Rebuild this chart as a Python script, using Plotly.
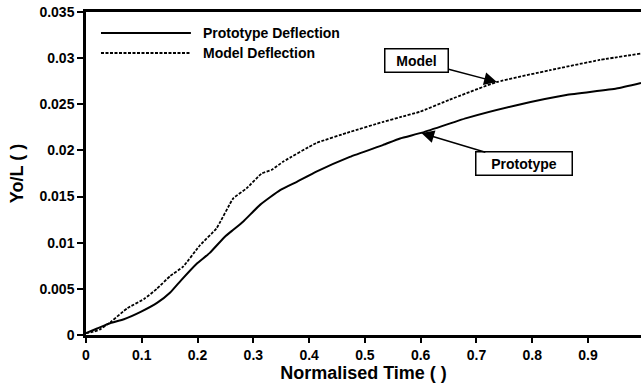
import plotly.graph_objects as go

# Data
proto_t = [0.0, 0.02, 0.044, 0.068, 0.098, 0.128, 0.151, 0.170, 0.198, 0.222, 0.249, 0.264,
           0.282, 0.312, 0.348, 0.378, 0.413, 0.473, 0.533, 0.563, 0.601, 0.682, 0.772,
           0.861, 0.951, 0.995]
proto_y = [0.0002, 0.0007, 0.0013, 0.0017, 0.0025, 0.0035, 0.0046, 0.0059, 0.0077, 0.0089,
           0.01065, 0.0114, 0.0123, 0.0141, 0.0157, 0.0166, 0.0177, 0.0193, 0.0206, 0.0213,
           0.0219, 0.0235, 0.0249, 0.0260, 0.0267, 0.0273]

model_t = [0.0, 0.01, 0.025, 0.046, 0.074, 0.104, 0.127, 0.151, 0.174, 0.204, 0.234, 0.264,
           0.288, 0.315, 0.333, 0.354, 0.413, 0.473, 0.533, 0.563, 0.599, 0.652, 0.736,
           0.832, 0.921, 0.995]
model_y = [0.0002, 0.0003, 0.0006, 0.0015, 0.0029, 0.0039, 0.0050, 0.0064, 0.0074, 0.0097,
           0.01156, 0.0148, 0.0159, 0.0175, 0.0179, 0.0188, 0.0208, 0.0220, 0.0231, 0.0236,
           0.0242, 0.0255, 0.0274, 0.0287, 0.0298, 0.0305]

series_names = ["Prototype Deflection", "Model Deflection"]
callout_labels = ["Model", "Prototype"]
x_title = "Normalised Time ( )"
y_title = "Yo/L ( )"
y_ticks = [0, 0.005, 0.01, 0.015, 0.02, 0.025, 0.03, 0.035]
y_ticklabels = ["0", "0.005", "0.01", "0.015", "0.02", "0.025", "0.03", "0.035"]
x_ticks = [0, 0.1, 0.2, 0.3, 0.4, 0.5, 0.6, 0.7, 0.8, 0.9]
x_ticklabels = ["0", "0.1", "0.2", "0.3", "0.4", "0.5", "0.6", "0.7", "0.8", "0.9"]

FONT = "Liberation Sans"
NB = "&nbsp;"
DASH = "3px,1.5px"

fig = go.Figure()
fig.add_trace(go.Scatter(x=proto_t, y=proto_y, mode="lines", name=series_names[0],
                         line=dict(color="black", width=2, shape="spline", smoothing=0.4),
                         showlegend=False))
fig.add_trace(go.Scatter(x=model_t, y=model_y, mode="lines", name=series_names[1],
                         line=dict(color="black", width=1.8, dash=DASH, shape="spline", smoothing=0.4),
                         showlegend=False))

# manual legend (long line samples as in reference)
legend_rows = [(0.935, "solid", 2), (0.873, DASH, 1.8)]
for (yy, dash, w), name in zip(legend_rows, series_names):
    fig.add_shape(type="line", xref="paper", yref="paper", x0=0.027, x1=0.189, y0=yy, y1=yy,
                  line=dict(color="black", width=w, dash=dash))
    fig.add_annotation(xref="paper", yref="paper", x=0.207, y=yy, text="<b>%s</b>" % name,
                       showarrow=False, xanchor="left", yanchor="middle",
                       font=dict(family=FONT, size=14, color="black"))

# callouts
fig.add_annotation(x=0.7366, y=0.02742, text="<b>%s%s%s</b>" % (NB * 2, callout_labels[0], NB * 2),
                   showarrow=True,
                   ax=-80, ay=-21, arrowhead=2, arrowsize=1.7, arrowwidth=1.5, arrowcolor="black",
                   bordercolor="black", borderwidth=1.5, borderpad=3, bgcolor="white",
                   font=dict(family=FONT, size=14, color="black"))
fig.add_annotation(x=0.6013, y=0.02189, text="<b>%s%s%s</b>" % (NB * 3, callout_labels[1], NB * 3),
                   showarrow=True,
                   ax=103, ay=31, arrowhead=2, arrowsize=1.7, arrowwidth=1.5, arrowcolor="black",
                   bordercolor="black", borderwidth=1.5, borderpad=3, bgcolor="white",
                   font=dict(family=FONT, size=14, color="black"))

fig.update_layout(
    width=641, height=384,
    margin=dict(l=86, r=0, t=12, b=49),
    paper_bgcolor="white", plot_bgcolor="white",
    font=dict(family=FONT, color="black"),
    showlegend=False,
)
fig.update_xaxes(range=[0, 0.995], tickvals=x_ticks, ticktext=["<b>%s</b>" % t for t in x_ticklabels],
                 ticks="outside", ticklen=5, tickwidth=2, tickcolor="black",
                 showline=True, linecolor="black", linewidth=2.5, mirror=True,
                 showgrid=False, zeroline=False,
                 tickfont=dict(family=FONT, size=14, color="black"),
                 title=dict(text="<b>%s</b>" % x_title, font=dict(family=FONT, size=18, color="black"),
                            standoff=3))
fig.update_yaxes(range=[0, 0.035], tickvals=y_ticks, ticktext=["<b>%s</b>" % t for t in y_ticklabels],
                 ticks="outside", ticklen=6, tickwidth=2, tickcolor="black",
                 showline=True, linecolor="black", linewidth=2.5,
                 showgrid=False, zeroline=False,
                 tickfont=dict(family=FONT, size=14, color="black"),
                 title=dict(text="<b>%s</b>" % y_title, font=dict(family=FONT, size=18, color="black"),
                            standoff=12))

fig.write_html("out.html", config={"displayModeBar": False},
               post_script="document.body.style.margin='0px';")
